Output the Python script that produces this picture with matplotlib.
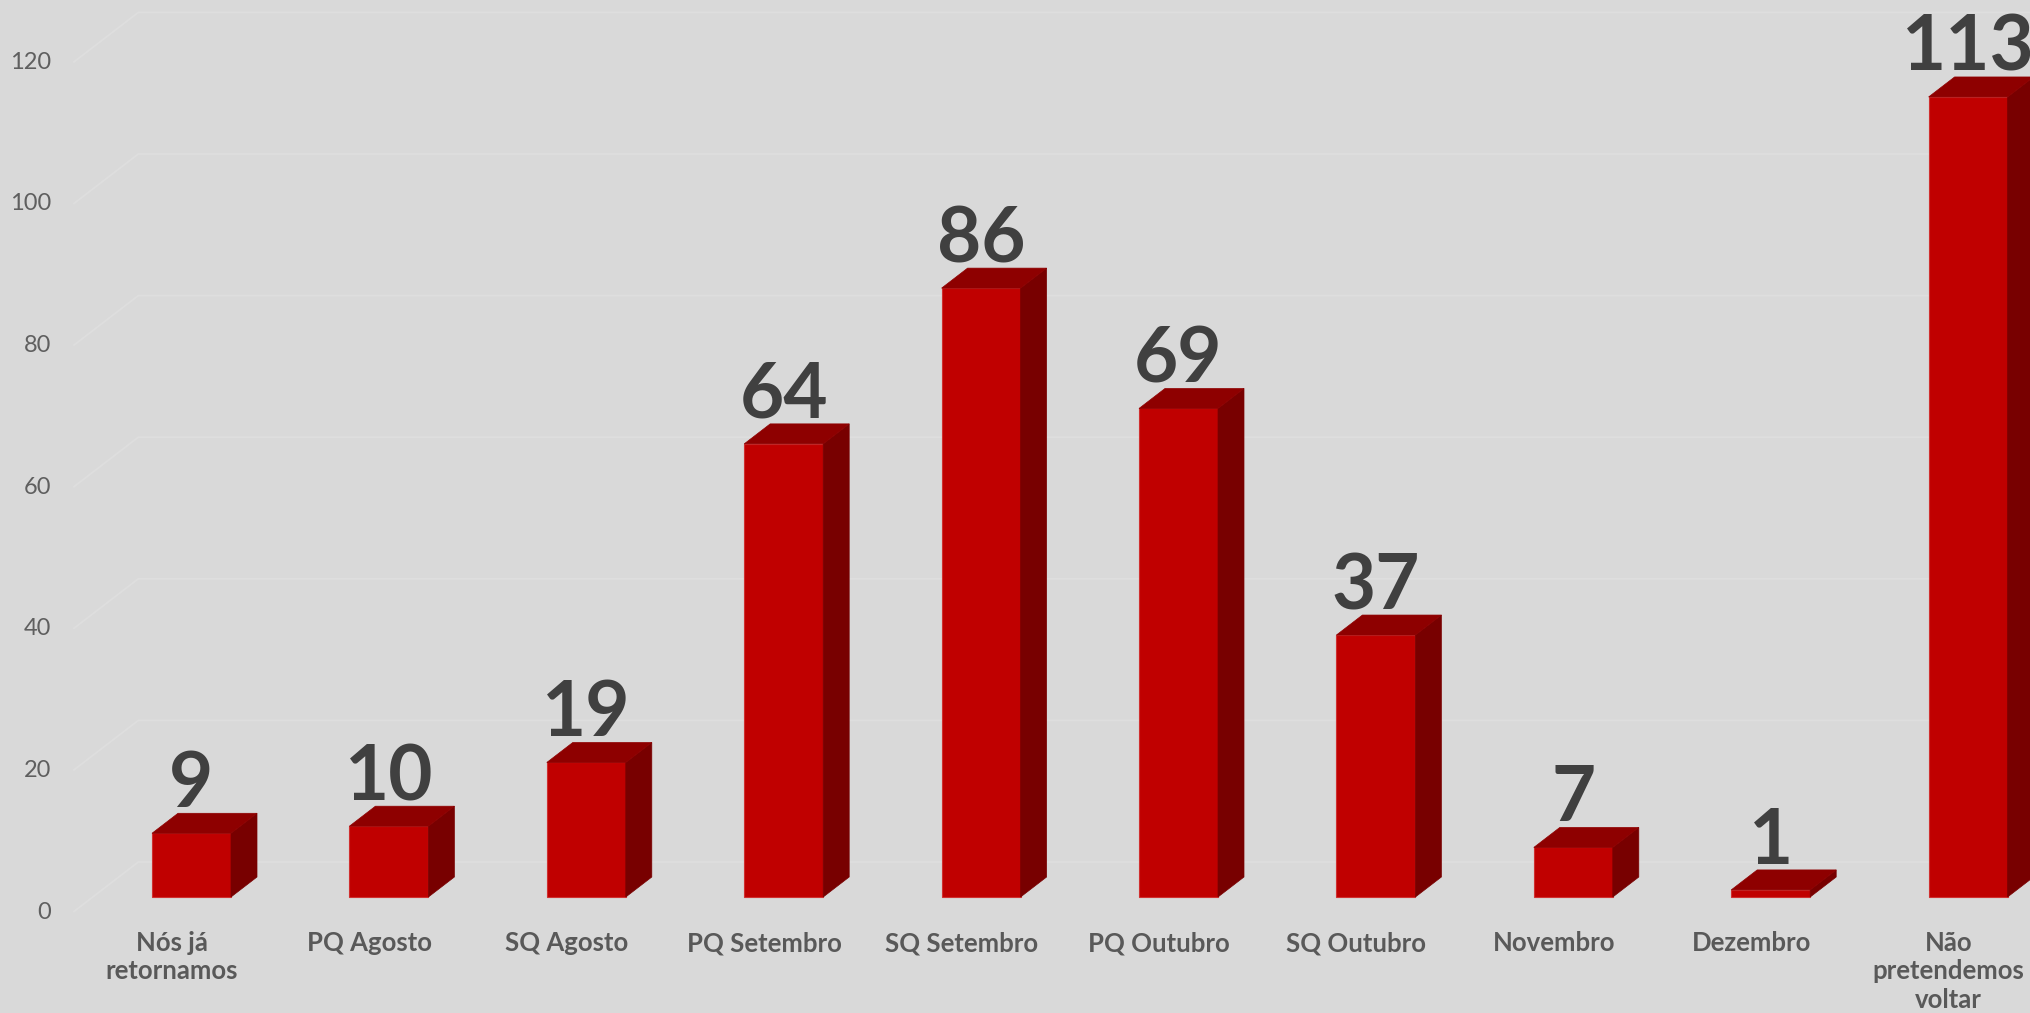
import matplotlib
matplotlib.use('Agg')
import matplotlib.pyplot as plt
from matplotlib.patches import Polygon

categories = ["Nós já\nretornamos", "PQ Agosto", "SQ Agosto", "PQ Setembro",
              "SQ Setembro", "PQ Outubro", "SQ Outubro", "Novembro",
              "Dezembro", "Não\npretendemos\nvoltar"]
values = [9, 10, 19, 64, 86, 69, 37, 7, 1, 113]
yticks = [0, 20, 40, 60, 80, 100, 120]

BG = '#d9d9d9'
FRONT = '#c00000'
TOP = '#8e0000'
SIDE = '#780000'
GRID = '#dedede'

W, H = 2031, 1013
fig = plt.figure(figsize=(W / 100, H / 100), dpi=100, facecolor=BG)
ax = fig.add_axes([0, 0, 1, 1])
ax.set_facecolor(BG)
ax.axis('off')

PX_CAT = 197.4      # pixels per category
PX_UNIT = 7.08      # pixels per value unit
X0 = 191.5          # pixel x of first bar's front-face centre
Y0 = 897            # pixel y (from top) of value 0 at bar front
ax.set_xlim(-X0 / PX_CAT, (W - X0) / PX_CAT)
ax.set_ylim((Y0 - H) / PX_UNIT, Y0 / PX_UNIT)


def off(d):
    """oblique depth offset (d in px of vertical depth) -> data units"""
    return 1.3 * d / PX_CAT, d / PX_UNIT


# gridlines on left wall + back wall
fx, fy = off(-15)
bx, by = off(35)
ncat = len(categories)
for t in yticks:
    xs = [-0.5 + fx, -0.5 + bx, ncat - 0.5 + bx]
    ys = [t + fy, t + by, t + by]
    ax.plot(xs, ys, color=GRID, lw=1.3, zorder=1, solid_capstyle='butt')
    ax.text(-0.5 + fx - 22 / PX_CAT, t + fy, str(t), ha='right', va='center',
            fontsize=17, color='#5f5f5f', family='Lato')

# bars
w = 79 / PX_CAT
dx, dy = off(20)
xs = list(range(ncat))
ax.bar(xs, values, width=w, color=FRONT, edgecolor='#d03030', linewidth=0.8, zorder=3)
for i, v in zip(xs, values):
    xl, xr = i - w / 2, i + w / 2
    top = Polygon([(xl, v), (xr, v), (xr + dx, v + dy), (xl + dx, v + dy)],
                  closed=True, facecolor=TOP, edgecolor=TOP, lw=0.5, zorder=3)
    side = Polygon([(xr, 0), (xr, v), (xr + dx, v + dy), (xr + dx, dy)],
                   closed=True, facecolor=SIDE, edgecolor=SIDE, lw=0.5, zorder=3)
    ax.add_patch(side)
    ax.add_patch(top)
    ax.text(i, v + dy + 6 / PX_UNIT, str(v), ha='center', va='baseline',
            fontsize=55, fontweight='bold', color='#404040', family='Lato', zorder=4)

# category labels
for i, c in enumerate(categories):
    ax.text(i + fx, (Y0 - 931) / PX_UNIT, c, ha='center', va='top',
            fontsize=18.5, fontweight='bold', color='#595959', family='Lato',
            linespacing=1.22, zorder=4)

fig.savefig('out.png', dpi=100, facecolor=BG)
